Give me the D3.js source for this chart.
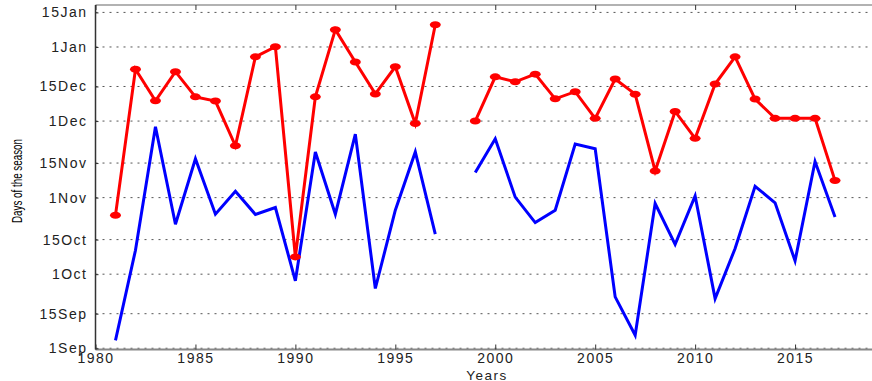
<!DOCTYPE html>
<html>
<head>
<meta charset="utf-8">
<script src="https://cdn.jsdelivr.net/npm/d3@7"></script>
<style>
  body { margin: 0; background: #fff; }
  svg { display: block; font-family: "Liberation Sans", Arial, sans-serif; }
</style>
</head>
<body>
<svg id="chart" width="872" height="381"></svg>
<script>
// years 1981..2017, 1998 missing (null)
const years = d3.range(1981, 2018);

// days counted from 1 Sep
const endDays = [53.9, 113, 100.2, 112, 101.8, 100.1, 82, 118, 122.1, 37, 101.8, 129, 115.9, 103, 114, 91, 131,
  null,
  92, 109.9, 107.9, 111, 101, 103.9, 93.1, 109, 102.9, 71.8, 95.9, 85, 107, 118, 100.9, 93.1, 93.1, 93.1, 67.9];

const onsetDays = [3.2, 39.7, 89.7, 50.2, 76.7, 54.3, 63.6, 54.2, 57, 27.3, 79.5, 54.3, 86.7, 24.2, 55.9, 79.5, 46.2,
  null,
  71.2, 84.8, 61.2, 50.9, 55.9, 82.7, 80.8, 20.8, 5.3, 58.6, 42.1, 61.7, 20.1, 40.4, 65.6, 58.9, 35.4, 75.6, 53.2];

const yTickValues = [0, 14, 30, 44, 61, 75, 92, 106, 122, 136];
const yTickLabels = ["1Sep", "15Sep", "1Oct", "15Oct", "1Nov", "15Nov", "1Dec", "15Dec", "1Jan", "15Jan"];
const xTickValues = [1980, 1985, 1990, 1995, 2000, 2005, 2010, 2015];

const svg = d3.select("#chart");
const mLeft = 95.5, mRight = 895, mTop = 5, mBottom = 349.5;

let x = d3.scaleLinear().domain([1980, 2020]).range([mLeft, mRight]);
let y = d3.scaleLinear().domain([-0.5, 139]).range([mBottom, mTop]);

// grid
svg.append("g")
  .selectAll("line")
  .data(yTickValues)
  .enter().append("line")
  .attr("x1", mLeft).attr("x2", 872)
  .attr("y1", d => y(d)).attr("y2", d => y(d))
  .attr("stroke", "#555")
  .attr("stroke-width", 1)
  .attr("stroke-dasharray", "2,5");

// frame
svg.append("line").attr("x1", mLeft).attr("x2", 872).attr("y1", mTop).attr("y2", mTop)
  .attr("stroke", "#999").attr("stroke-width", 1.5);
svg.append("line").attr("x1", mLeft).attr("x2", 872).attr("y1", mBottom).attr("y2", mBottom)
  .attr("stroke", "#888").attr("stroke-width", 2);
svg.append("line").attr("x1", mLeft).attr("x2", mLeft).attr("y1", mTop).attr("y2", mBottom)
  .attr("stroke", "#333").attr("stroke-width", 1.5);

// x ticks (inward, top and bottom)
let xAxisBottom = d3.axisBottom(x).tickValues(xTickValues).tickFormat(d3.format("d")).tickSize(-5).tickPadding(4);
let gx = svg.append("g").attr("transform", `translate(0,${mBottom})`).call(xAxisBottom);
gx.select(".domain").remove();
gx.selectAll("line").attr("stroke", "#333");
gx.selectAll("text").attr("font-size", 14).attr("fill", "#222").attr("letter-spacing", "1.5px");

let xAxisTop = d3.axisTop(x).tickValues(xTickValues).tickFormat("").tickSize(-5);
let gxt = svg.append("g").attr("transform", `translate(0,${mTop})`).call(xAxisTop);
gxt.select(".domain").remove();
gxt.selectAll("line").attr("stroke", "#333");

// y axis
let yAxis = d3.axisLeft(y).tickValues(yTickValues).tickFormat((d, i) => yTickLabels[i]).tickSize(-3).tickPadding(8);
let gy = svg.append("g").attr("transform", `translate(${mLeft},0)`).call(yAxis);
gy.select(".domain").remove();
gy.selectAll("line").attr("stroke", "#333");
gy.selectAll("text").attr("font-size", 14).attr("fill", "#222").attr("letter-spacing", "1.5px");

// lines
let line = d3.line()
  .defined(d => d[1] !== null)
  .x(d => x(d[0]))
  .y(d => y(d[1]));

svg.append("path")
  .datum(years.map((yr, i) => [yr, onsetDays[i]]))
  .attr("d", line)
  .attr("fill", "none")
  .attr("stroke", "#0000ff")
  .attr("stroke-width", 3);

let endData = years.map((yr, i) => [yr, endDays[i]]);
svg.append("path")
  .datum(endData)
  .attr("d", line)
  .attr("fill", "none")
  .attr("stroke", "#ff0000")
  .attr("stroke-width", 3);

svg.selectAll(".dot")
  .data(endData.filter(d => d[1] !== null))
  .enter().append("ellipse")
  .attr("class", "dot")
  .attr("cx", d => x(d[0]))
  .attr("cy", d => y(d[1]))
  .attr("rx", 5.5)
  .attr("ry", 3.5)
  .attr("fill", "#ff0000");

// labels
svg.append("text")
  .attr("x", 487).attr("y", 379.5)
  .attr("text-anchor", "middle")
  .attr("font-size", 13.5).attr("fill", "#222").attr("letter-spacing", "1.5px")
  .text("Years");

svg.append("text")
  .attr("transform", "translate(22,181) rotate(-90)")
  .attr("text-anchor", "middle")
  .attr("font-size", 14).attr("fill", "#000")
  .attr("textLength", 84).attr("lengthAdjust", "spacingAndGlyphs")
  .text("Days of the season");
</script>
</body>
</html>
